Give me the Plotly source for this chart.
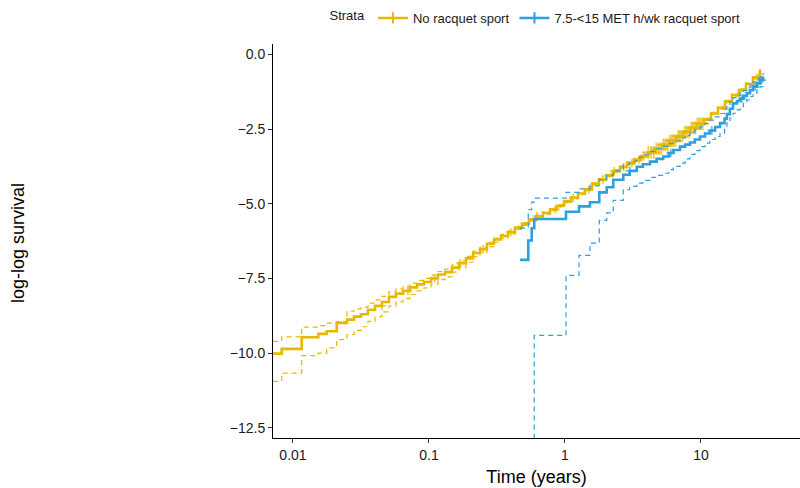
import numpy as np
import plotly.graph_objects as go

# ---- data ----
# No racquet sport: time (years), log-log survival, and its confidence band
t_no = [0.00713, 0.00826, 0.01159, 0.01535, 0.0177, 0.02095,
        0.02495, 0.02811, 0.03162, 0.03559, 0.04009, 0.0451, 0.05078, 0.05715, 0.06442, 0.07244,
        0.08166, 0.09183, 0.1035, 0.1164, 0.1312, 0.1476, 0.1663, 0.1871, 0.2108, 0.2371,
        0.2667, 0.3006, 0.3381, 0.3811, 0.4285, 0.4831, 0.5433, 0.6124, 0.6887, 0.7762,
        0.8734, 0.9832, 1.107, 1.246, 1.403, 1.58, 1.778, 2.001, 2.254, 2.536,
        2.858, 3.215, 3.622, 4.075, 4.591, 5.165, 5.818, 6.546, 7.375, 8.298,
        9.349, 10.52, 11.85, 13.33, 15.01, 16.9, 19.02, 21.41, 24.1, 27.16]
v_no = [-10.02, -9.86, -9.47, -9.36, -9.27, -8.99,
        -8.88, -8.78, -8.70, -8.55, -8.42, -8.29, -8.12, -8.01, -7.92, -7.80,
        -7.70, -7.62, -7.50, -7.37, -7.29, -7.14, -6.99, -6.83, -6.65, -6.52,
        -6.34, -6.20, -6.08, -5.95, -5.80, -5.67, -5.54, -5.42, -5.31, -5.19,
        -5.07, -4.93, -4.80, -4.66, -4.52, -4.33, -4.19, -4.05, -3.91, -3.77,
        -3.64, -3.52, -3.40, -3.28, -3.16, -3.03, -2.89, -2.74, -2.60, -2.46,
        -2.32, -2.17, -1.98, -1.79, -1.58, -1.36, -1.19, -0.99, -0.77, -0.52]
up_no = [-9.61, -9.46, -9.13, -9.08, -9.0, -8.95,
         -8.60, -8.52, -8.46, -8.33, -8.22, -8.10, -7.95, -7.85, -7.77, -7.66,
         -7.57, -7.50, -7.39, -7.27, -7.19, -7.05, -6.91, -6.76, -6.59, -6.46,
         -6.29, -6.15, -6.03, -5.91, -5.76, -5.63, -5.50, -5.38, -5.27, -5.15,
         -5.03, -4.89, -4.76, -4.62, -4.48, -4.29, -4.15, -4.01, -3.87, -3.73,
         -3.60, -3.48, -3.36, -3.24, -3.12, -2.99, -2.85, -2.70, -2.56, -2.42,
         -2.28, -2.13, -1.94, -1.75, -1.54, -1.32, -1.15, -0.95, -0.73, -0.48]
lo_no = [-10.95, -10.67, -10.09, -10.0, -9.83, -9.55,
         -9.38, -9.24, -9.12, -8.94, -8.78, -8.62, -8.42, -8.29, -8.18, -8.04,
         -7.92, -7.82, -7.69, -7.54, -7.45, -7.29, -7.13, -6.96, -6.77, -6.63,
         -6.44, -6.29, -6.16, -6.02, -5.86, -5.73, -5.59, -5.47, -5.36, -5.23,
         -5.11, -4.97, -4.84, -4.70, -4.56, -4.37, -4.23, -4.09, -3.95, -3.81,
         -3.68, -3.56, -3.44, -3.32, -3.20, -3.07, -2.93, -2.78, -2.64, -2.50,
         -2.36, -2.21, -2.02, -1.83, -1.62, -1.40, -1.23, -1.03, -0.82, -0.58]
cens_no = [0.045, 0.07, 0.11, 0.17, 0.25, 0.4, 0.62, 0.85, 1.15, 1.5, 1.9, 2.3, 2.7, 3.1,
           3.5, 3.8, 4.1, 4.3, 4.5, 4.7, 4.9, 5.1, 5.3, 5.5, 5.7, 5.9, 6.1, 6.3, 6.5, 6.8,
           7.0, 7.3, 7.6, 7.9, 8.2, 8.5, 8.8, 9.1, 9.4, 9.7, 10.0, 10.3, 26.0, 27.0]

# 7.5-<15 MET h/wk racquet sport
t_rq = [0.467, 0.537, 0.569, 0.594, 1.017, 1.268, 1.527, 1.787, 2.027, 2.265,
        2.683, 2.99, 3.37, 3.74, 4.22, 4.72, 5.28, 5.79, 6.26, 7.01, 7.65, 8.3,
        9.0, 9.84, 10.7, 11.6, 12.7, 13.8, 14.9, 15.5, 16.3, 17.2, 18.4, 19.4,
        20.5, 21.7, 22.9, 24.1, 25.8, 27.2, 28.6]
v_rq = [-6.88, -6.23, -5.82, -5.51, -5.27, -5.09, -4.95, -4.62, -4.45, -4.2,
        -4.03, -3.9, -3.76, -3.68, -3.59, -3.5, -3.42, -3.3, -3.2, -3.09, -3.02, -2.95,
        -2.85, -2.75, -2.65, -2.55, -2.43, -2.3, -2.15, -2.0, -1.82, -1.64, -1.56, -1.48,
        -1.39, -1.3, -1.2, -1.08, -0.97, -0.86, -0.75]
up_rq = [-5.82, -5.2, -4.95, -4.81, -4.62, -4.5, -4.4, -4.2, -4.05, -3.9,
         -3.7, -3.58, -3.45, -3.36, -3.25, -3.16, -3.08, -2.98, -2.9, -2.8, -2.71, -2.62,
         -2.52, -2.42, -2.31, -2.2, -2.09, -1.98, -1.84, -1.72, -1.58, -1.45, -1.38, -1.3,
         -1.21, -1.12, -1.02, -0.92, -0.82, -0.72, -0.62]
lo_rq = [-16.0, -16.0, -16.0, -9.41, -7.40, -6.73, -6.32, -5.56, -5.31, -4.89,
         -4.53, -4.42, -4.31, -4.22, -4.12, -4.05, -3.98, -3.86, -3.75, -3.64, -3.5, -3.35,
         -3.22, -3.09, -2.97, -2.85, -2.75, -2.64, -2.47, -2.3, -2.13, -1.97, -1.86, -1.75,
         -1.64, -1.52, -1.41, -1.3, -1.19, -1.08, -0.98]
cens_rq = [3.0, 6.0, 12.0, 20.0, 25.0, 28.0]

strata = ["No racquet sport", "7.5-<15 MET h/wk racquet sport"]
colors = ["#E7B800", "#2E9FDF"]

x_ticks = [0.01, 0.1, 1, 10]
x_labels = ["0.01", "0.1", "1", "10"]
y_ticks = [0.0, -2.5, -5.0, -7.5, -10.0, -12.5]


def step_at(ts, vs, c):
    i = np.searchsorted(np.asarray(ts), c, side="right") - 1
    return vs[max(i, 0)]


fig = go.Figure()
groups = [(t_no, v_no, up_no, lo_no, cens_no), (t_rq, v_rq, up_rq, lo_rq, cens_rq)]
for k, ((ts, vs, up, lo, cens), name, col) in enumerate(zip(groups, strata, colors)):
    for ci in (up, lo):
        fig.add_trace(go.Scatter(x=ts, y=ci, mode="lines", line_shape="hv",
                                 line=dict(color=col, width=1.2, dash="5px,4px"),
                                 showlegend=False, hoverinfo="skip"))
    fig.add_trace(go.Scatter(x=ts, y=vs, mode="lines", line_shape="hv",
                             line=dict(color=col, width=2.6), showlegend=False))
    sizes = [9 if (k == 0 and 4.0 <= c <= 10.5) else 6 for c in cens]
    fig.add_trace(go.Scatter(x=cens, y=[step_at(ts, vs, c) for c in cens], mode="markers",
                             marker=dict(symbol="cross-thin-open", size=sizes, color=col,
                                         line=dict(color=col, width=1.8)),
                             showlegend=False, hoverinfo="skip"))
    fig.add_trace(go.Scatter(x=[None], y=[None], mode="lines+markers", name=name,
                             line=dict(color=col, width=2.6),
                             marker=dict(symbol="line-ns-open", size=8, color=col,
                                         line=dict(color=col, width=2))))

FONT = "Liberation Sans, Arial, Helvetica, sans-serif"
fig.update_layout(
    width=800, height=488,
    margin=dict(l=273, r=0, t=44, b=50),
    paper_bgcolor="white", plot_bgcolor="white",
    font=dict(family=FONT, size=14, color="#1a1a1a"),
    showlegend=True,
    legend=dict(orientation="h", x=0.5, xanchor="center", y=1.066, yanchor="middle",
                font=dict(size=13, color="#1a1a1a"), itemwidth=30,
                title=dict(text="Strata", side="left", font=dict(size=13))),
    xaxis=dict(type="log", range=[-2.147, 1.728], showgrid=False, zeroline=False,
               showline=True, linecolor="black", linewidth=1,
               ticks="outside", ticklen=4, tickcolor="#333333",
               tickvals=x_ticks, ticktext=x_labels,
               tickfont=dict(size=14, color="#1a1a1a"),
               title=dict(text="Time (years)", font=dict(size=18, color="black"), standoff=8)),
    yaxis=dict(range=[-12.845, 0.348], showgrid=False, zeroline=False,
               showline=True, linecolor="black", linewidth=1,
               ticks="outside", ticklen=4, tickcolor="#333333",
               tickvals=y_ticks, tickformat=".1f",
               tickfont=dict(size=14, color="#1a1a1a")),
    annotations=[dict(text="log-log survival", xref="paper", yref="paper",
                      x=-0.4839, y=0.495, xanchor="center", yanchor="middle",
                      textangle=-90, showarrow=False,
                      font=dict(size=18, color="black", family=FONT))],
)

fig.write_html("out.html")
